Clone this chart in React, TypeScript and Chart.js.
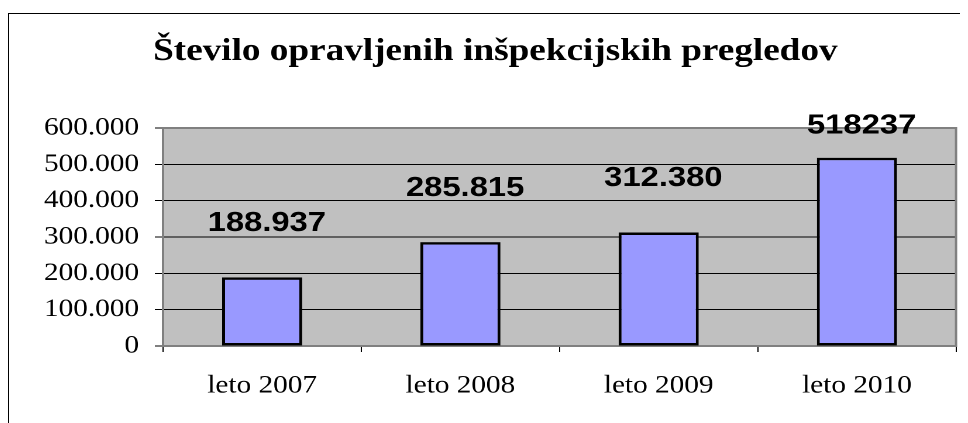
import React, { useEffect, useRef } from "react";
import { Chart, registerables } from "chart.js";

Chart.register(...registerables);

// ---- data ----
const categories = ["leto 2007", "leto 2008", "leto 2009", "leto 2010"];
const values = [188937, 285815, 312380, 518237];
const valueLabels = ["188.937", "285.815", "312.380", "518237"];
const yMin = 0;
const yMax = 600000;
const yStep = 100000;
const titleText = "Število opravljenih inšpekcijskih pregledov";

// ---- layout (unscaled canvas units; the whole chart is stretched horizontally) ----
const SX = 1.17;
const CW = 833;
const CH = 415;
const AREA_LEFT = 132.5;
const AREA_RIGHT = 810.3;
const AREA_TOP = 120;
const AREA_BOTTOM = 338;
const TITLE_Y = 44;

const fmt = (v: number) => String(v).replace(/\B(?=(\d{3})+(?!\d))/g, ".");

const decorPlugin = {
  id: "decor",
  beforeDraw(chart: any) {
    const { ctx, chartArea } = chart;
    ctx.save();
    ctx.fillStyle = "#C0C0C0";
    ctx.fillRect(chartArea.left, chartArea.top, chartArea.right - chartArea.left, chartArea.bottom - chartArea.top);
    ctx.strokeStyle = "#000";
    ctx.lineWidth = 1;
    ctx.strokeRect(0.5, 5.5, CW + 20, CH + 20);
    // title
    ctx.fillStyle = "#000";
    ctx.font = "bold 31.8px 'Liberation Serif', 'Times New Roman', serif";
    ctx.textAlign = "center";
    ctx.textBaseline = "middle";
    ctx.fillText(titleText, chart.width / 2, TITLE_Y);
    ctx.restore();
  },
  beforeDatasetsDraw(chart: any) {
    const { ctx, chartArea } = chart;
    ctx.save();
    ctx.strokeStyle = "#808080";
    ctx.lineWidth = 2;
    ctx.strokeRect(chartArea.left, chartArea.top, chartArea.right - chartArea.left, chartArea.bottom - chartArea.top);
    ctx.restore();
  },
  afterDatasetsDraw(chart: any) {
    const { ctx, chartArea } = chart;
    const meta = chart.getDatasetMeta(0);
    ctx.save();
    ctx.font = "bold 28px 'Liberation Sans', Arial, sans-serif";
    ctx.fillStyle = "#000";
    ctx.textAlign = "center";
    ctx.textBaseline = "middle";
    meta.data.forEach((bar: any, i: number) => {
      const y = Math.max(bar.y - 54, chartArea.top - 2);
      ctx.fillText(valueLabels[i], bar.x + 4, y);
    });
    ctx.restore();
  },
};

export default function App() {
  const ref = useRef<HTMLCanvasElement | null>(null);

  useEffect(() => {
    document.documentElement.style.overflow = "hidden";
    const canvas = ref.current;
    if (!canvas) return;
    const chart = new Chart(canvas, {
      type: "bar",
      data: {
        labels: categories,
        datasets: [
          {
            data: values,
            backgroundColor: "#9999FF",
            borderColor: "#000000",
            borderWidth: 2.5,
            borderSkipped: false,
            barPercentage: 0.404,
            categoryPercentage: 1,
          },
        ],
      },
      options: {
        responsive: false,
        animation: false,
        devicePixelRatio: 2,
        layout: { padding: { left: 0, right: CW - AREA_RIGHT, top: AREA_TOP, bottom: 0 } },
        plugins: {
          legend: { display: false },
          tooltip: { enabled: false },
          title: { display: false },
        },
        scales: {
          x: {
            grid: {
              display: true,
              drawOnChartArea: false,
              drawTicks: true,
              tickLength: 6,
              color: "#000",
              offset: true,
            },
            border: { display: false },
            ticks: {
              color: "#000",
              font: { family: "'Liberation Serif', 'Times New Roman', serif", size: 25 },
              padding: 19,
              maxRotation: 0,
            },
            afterFit: (s: any) => {
              s.height = CH - AREA_BOTTOM;
            },
          },
          y: {
            min: yMin,
            max: yMax,
            grid: { color: "#000", lineWidth: 1, tickLength: 7 },
            border: { display: false },
            ticks: {
              stepSize: yStep,
              color: "#000",
              font: { family: "'Liberation Serif', 'Times New Roman', serif", size: 25 },
              padding: 13.5,
              callback: (v: any) => fmt(Number(v)),
            },
            afterFit: (s: any) => {
              s.width = AREA_LEFT;
            },
          },
        },
      },
      plugins: [decorPlugin],
    });
    return () => chart.destroy();
  }, []);

  return (
    <div style={{ width: 960, height: 415, overflow: "hidden" }}>
      <div style={{ width: CW, height: CH, transform: `scaleX(${SX})`, transformOrigin: "0 0" }}>
        <canvas ref={ref} width={CW} height={CH} style={{ display: "block" }} />
      </div>
    </div>
  );
}
